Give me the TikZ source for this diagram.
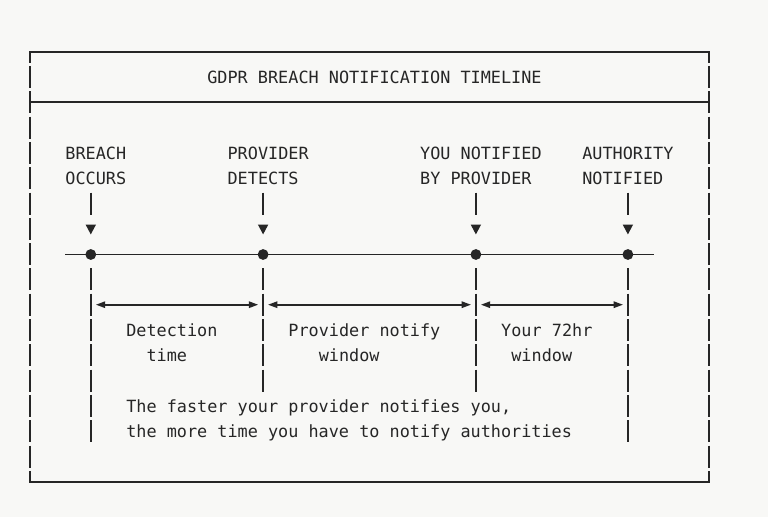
\documentclass[tikz,border=0pt]{standalone}
\usepackage{fontspec}
\setmonofont{DejaVu Sans Mono}
\usetikzlibrary{arrows.meta}
\definecolor{bg}{HTML}{F8F8F6}
\definecolor{ink}{HTML}{262626}
\newcommand\myvsegs[3]{\foreach \r in {#2,...,#3}{\draw[rule] (#1,{77+25.3*\r-11}) -- (#1,{77+25.3*\r+11});}}
\begin{document}
\begin{tikzpicture}[x=0.75pt,y=-0.75pt,
  rule/.style={draw=ink,line width=1.25pt},
  txt/.style={anchor=base west,inner sep=0pt,outer sep=0pt,text=ink,font=\fontsize{12.62pt}{15pt}\ttfamily},
  tri/.style={fill=ink,draw=none},
  dbl/.style={rule,{Triangle[length=7pt,width=4.8pt]}-{Triangle[length=7pt,width=4.8pt]}}]
\fill[bg] (0,0) rectangle (768,517);
\useasboundingbox (0,0) rectangle (768,517);
% outer frame
\coordinate (tl) at (30,51.7); \coordinate (tr) at (709,51.7);
\coordinate (bl) at (30,481.8); \coordinate (br) at (709,481.8);
\coordinate (sl) at (30,102.3); \coordinate (sr) at (709,102.3);
\draw[rule] (30,62.7) -- (tl) -- (tr) -- (709,62.7);
\draw[rule] (30,470.8) -- (bl) -- (br) -- (709,470.8);
\draw[rule] (sl) -- (sr);
\myvsegs{30}{0}{15}
\myvsegs{709}{0}{15}
% title
\node[txt] (title) at (207.34,83.1) {GDPR BREACH NOTIFICATION TIMELINE};
% event labels
\node[txt] (l1a) at (65.47,159) {BREACH};
\node[txt] (l1b) at (65.47,184.3) {OCCURS};
\node[txt] (l2a) at (227.61,159) {PROVIDER};
\node[txt] (l2b) at (227.61,184.3) {DETECTS};
\node[txt] (l3a) at (420.16,159) {YOU NOTIFIED};
\node[txt] (l3b) at (420.16,184.3) {BY PROVIDER};
\node[txt] (l4a) at (582.30,159) {AUTHORITY};
\node[txt] (l4b) at (582.30,184.3) {NOTIFIED};
% timeline
\coordinate (tls) at (65.47,254.5);
\coordinate (tle) at (653.5,254.5);
\draw[rule] (tls) -- (tle);
\foreach \n/\x in {1/90.8,2/263.1,3/475.9,4/627.9}{
  \coordinate (ev\n) at (\x,254.5);
  \fill[ink] (ev\n) circle (5.4);
  \draw[rule] (\x,192.5) -- (\x,214.5);
  \fill[tri] (\x-5.2,224.6) -- (\x+5.2,224.6) -- (\x,234.4) -- cycle;
}
% verticals below events
\myvsegs{90.8}{8}{14}
\myvsegs{627.9}{8}{14}
\myvsegs{263.1}{8}{12}
\myvsegs{475.9}{8}{12}
% interval arrows
\coordinate (a1s) at (95.9,304.7); \coordinate (a1e) at (258.2,304.7);
\coordinate (a2s) at (268.0,304.7); \coordinate (a2e) at (471.0,304.7);
\coordinate (a3s) at (480.9,304.7); \coordinate (a3e) at (623.0,304.7);
\draw[dbl] (a1s) -- (a1e);
\draw[dbl] (a2s) -- (a2e);
\draw[dbl] (a3s) -- (a3e);
% interval labels
\node[txt] (d1a) at (126.27,336.1) {Detection};
\node[txt] (d1b) at (146.54,361.4) {time};
\node[txt] (d2a) at (288.41,336.1) {Provider notify};
\node[txt] (d2b) at (318.82,361.4) {window};
\node[txt] (d3a) at (501.23,336.1) {Your 72hr};
\node[txt] (d3b) at (511.36,361.4) {window};
% note
\node[txt] (n1) at (126.27,412) {The faster your provider notifies you,};
\node[txt] (n2) at (126.27,437.3) {the more time you have to notify authorities};
\end{tikzpicture}
\end{document}
